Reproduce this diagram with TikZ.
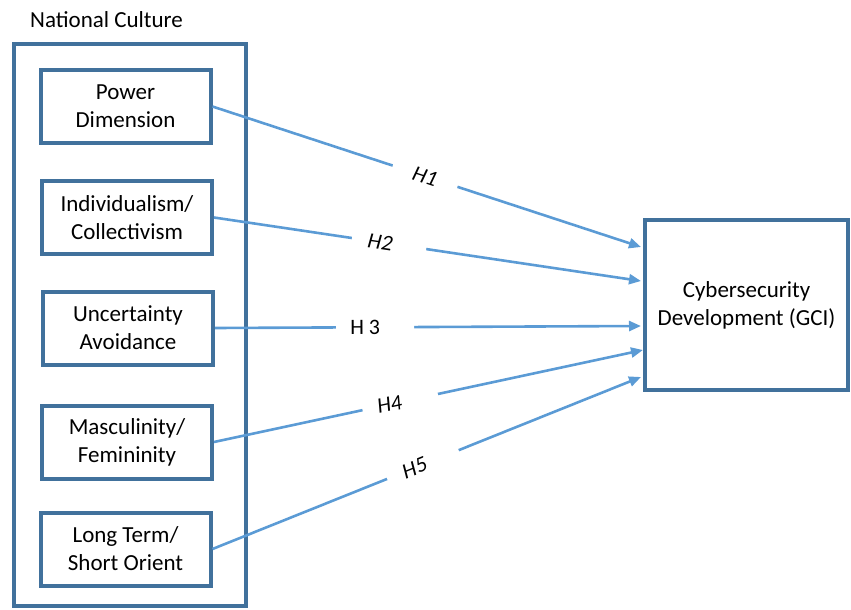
\documentclass[tikz,border=0pt]{standalone}
\usepackage{fontspec}
\setmainfont{Carlito}
\usetikzlibrary{arrows.meta}
\definecolor{boxblue}{HTML}{41719C}
\definecolor{arrowblue}{HTML}{5B9BD5}
\begin{document}
\begin{tikzpicture}[x=1pt,y=-1pt,
  dimbox/.style={draw=boxblue,line width=4pt,minimum width=170pt,minimum height=73pt,align=center,inner sep=0pt,font=\fontsize{23}{28}\selectfont},
  outerbox/.style={draw=boxblue,line width=4pt,minimum width=232pt,minimum height=562pt,inner sep=0pt},
  link/.style={draw=arrowblue,line width=2.6pt,-{Triangle[length=12pt,width=10pt]}},
  hlab/.style={fill=white,sloped,inner sep=0pt,minimum height=24pt,font=\fontsize{22}{24}\selectfont\itshape},
  hlabup/.style={hlab,font=\fontsize{22}{24}\selectfont\upshape}]
\useasboundingbox (0,0) rectangle (851,610);
\node[anchor=west,inner sep=0pt,font=\fontsize{23}{26}\selectfont] (title) at (30,20) {National Culture};
\node[outerbox] (nc) at (130,325) {};
\node[dimbox] (pd) at (125.5,106.5) {Power\\Dimension};
\node[dimbox] (ic) at (127,217.5) {Individualism/\\Collectivism};
\node[dimbox] (ua) at (128,328) {Uncertainty\\Avoidance};
\node[dimbox] (mf) at (127,442) {Masculinity/\\Femininity};
\node[dimbox] (lt) at (125.5,549) {Long Term/\\Short Orient};
\node[draw=boxblue,line width=4pt,minimum width=203pt,minimum height=170pt,align=center,inner sep=0pt,font=\fontsize{23}{28}\selectfont] (gci) at (746.5,305) {Cybersecurity\\Development (GCI)};
\coordinate (e1) at (641,247);
\coordinate (e2) at (641,281);
\coordinate (e3) at (641,326);
\coordinate (e4) at (643,350);
\coordinate (e5) at (641,377);
\draw[link] (pd.east) -- node[hlab,pos=0.496,minimum width=68pt] (h1) {H1} (e1);
\draw[link] (ic.east) -- node[hlab,pos=0.41,minimum width=75pt] (h2) {H2\hspace*{18pt}} (e2);
\draw[link] (ua.east) -- node[hlabup,pos=0.376,minimum width=78pt] (h3) {H 3\hspace*{20pt}} (e3);
\draw[link] (mf.east) -- node[hlab,pos=0.434,minimum width=77pt] (h4) {H4\hspace*{22pt}} (e4);
\draw[link] (lt.east) -- node[hlab,pos=0.491,minimum width=77pt] (h5) {H5\hspace*{18pt}} (e5);
\end{tikzpicture}
\end{document}
